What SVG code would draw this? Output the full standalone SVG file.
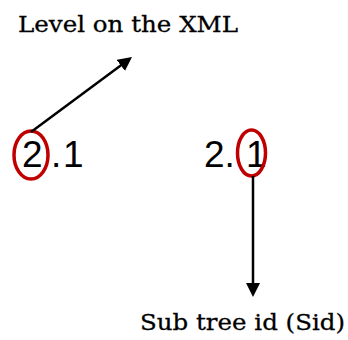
<svg xmlns="http://www.w3.org/2000/svg" width="348" height="340" viewBox="0 0 348 340">
  <style>
    .label { font-family: "DejaVu Serif", "Liberation Serif", serif; font-size: 23px; fill: #000; stroke: #000; stroke-width: 0.3; }
    .num { font-family: "Liberation Sans", Arial, sans-serif; font-size: 37px; fill: #000; }
    .ring { fill: none; stroke: #c00000; stroke-width: 3.5; }
    .arrow { fill: none; stroke: #000; stroke-width: 2.5; marker-end: url(#head); }
  </style>
  <defs>
    <marker id="head" viewBox="0 0 14 14" refX="10" refY="7" markerWidth="14" markerHeight="14" markerUnits="userSpaceOnUse" orient="auto">
      <path d="M0,0 L14,7 L0,14 Z" fill="#000"/>
    </marker>
  </defs>

  <rect width="348" height="340" fill="#fff"/>

  <g id="level-label">
    <text class="label" x="18" y="32" textLength="220" lengthAdjust="spacingAndGlyphs">Level on the XML</text>
  </g>

  <g id="id-left">
    <text class="num" x="22" y="167">2<tspan x="51">.</tspan><tspan x="63">1</tspan></text>
    <ellipse class="ring" cx="31" cy="155" rx="17" ry="24"/>
  </g>

  <g id="id-right">
    <text class="num" x="204" y="167">2.<tspan x="246">1</tspan></text>
    <ellipse class="ring" cx="251.5" cy="153" rx="14" ry="23"/>
  </g>

  <g id="sid-label">
    <text class="label" x="140" y="330" textLength="205" lengthAdjust="spacingAndGlyphs">Sub tree id (Sid)</text>
  </g>

  <g id="connectors">
    <line class="arrow" x1="31" y1="132" x2="128.8" y2="59.4"/>
    <line class="arrow" x1="253" y1="176" x2="253" y2="293"/>
  </g>
</svg>
